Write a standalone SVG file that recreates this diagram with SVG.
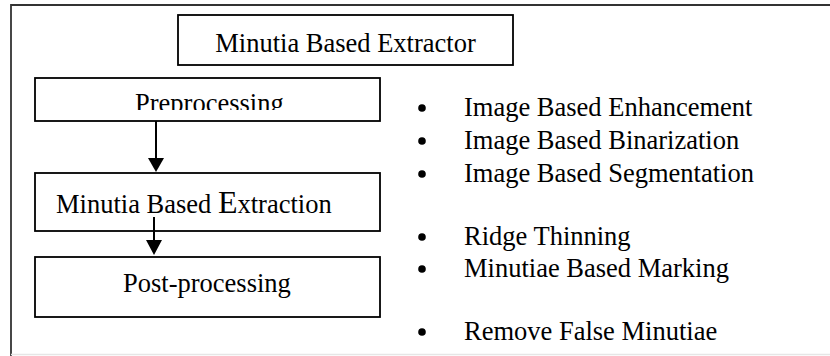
<svg xmlns="http://www.w3.org/2000/svg" width="830" height="356" viewBox="0 0 830 356">
<defs>
<style>
.box{fill:#fff;stroke:#000;stroke-width:1.8}
.t{font-family:'Liberation Serif','DejaVu Serif',serif;font-size:26.5px;fill:#000}
.frame{stroke:#333;stroke-width:1.8;fill:none}
.conn{stroke:#000;stroke-width:2;fill:none}
</style>
<clipPath id="clipPre"><rect x="35" y="78" width="345" height="32"/></clipPath>
</defs>
<rect width="830" height="356" fill="#fff"/>
<g id="frame">
<path class="frame" d="M11,356 V5 H830"/>
<line x1="11" y1="354.5" x2="830" y2="354.5" stroke="#e6e6e6" stroke-width="1.5"/>
</g>
<g id="title">
<rect class="box" x="178" y="15" width="335" height="50"/>
<text class="t" x="345.5" y="52" text-anchor="middle">Minutia Based Extractor</text>
</g>
<g id="preprocessing">
<rect class="box" x="35" y="78" width="345" height="43"/>
<text class="t" x="135" y="112" clip-path="url(#clipPre)">Preprocessing</text>
</g>
<g id="extraction">
<rect class="box" x="35" y="173" width="345" height="58"/>
<text class="t" x="56" y="213">Minutia Based <tspan font-size="32px">E</tspan>xtraction</text>
</g>
<g id="postprocessing">
<rect class="box" x="35" y="257" width="345" height="60"/>
<text class="t" x="123" y="292">Post-processing</text>
</g>
<g id="connectors">
<line class="conn" x1="156" y1="121" x2="156" y2="159"/>
<polygon points="148,158 164,158 156,172" fill="#000"/>
<line class="conn" x1="154" y1="217" x2="154" y2="241"/>
<polygon points="146,240 162,240 154,255" fill="#000"/>
</g>
<g id="bullets">
<circle cx="422" cy="108" r="3.8"/>
<text class="t" x="464" y="116">Image Based Enhancement</text>
<circle cx="422" cy="141" r="3.8"/>
<text class="t" x="464" y="149">Image Based Binarization</text>
<circle cx="422" cy="174" r="3.8"/>
<text class="t" x="464" y="182">Image Based Segmentation</text>
<circle cx="422" cy="237" r="3.8"/>
<text class="t" x="464" y="245">Ridge Thinning</text>
<circle cx="422" cy="269" r="3.8"/>
<text class="t" x="464" y="277">Minutiae Based Marking</text>
<circle cx="422" cy="332" r="3.8"/>
<text class="t" x="464" y="340">Remove False Minutiae</text>
</g>
</svg>
